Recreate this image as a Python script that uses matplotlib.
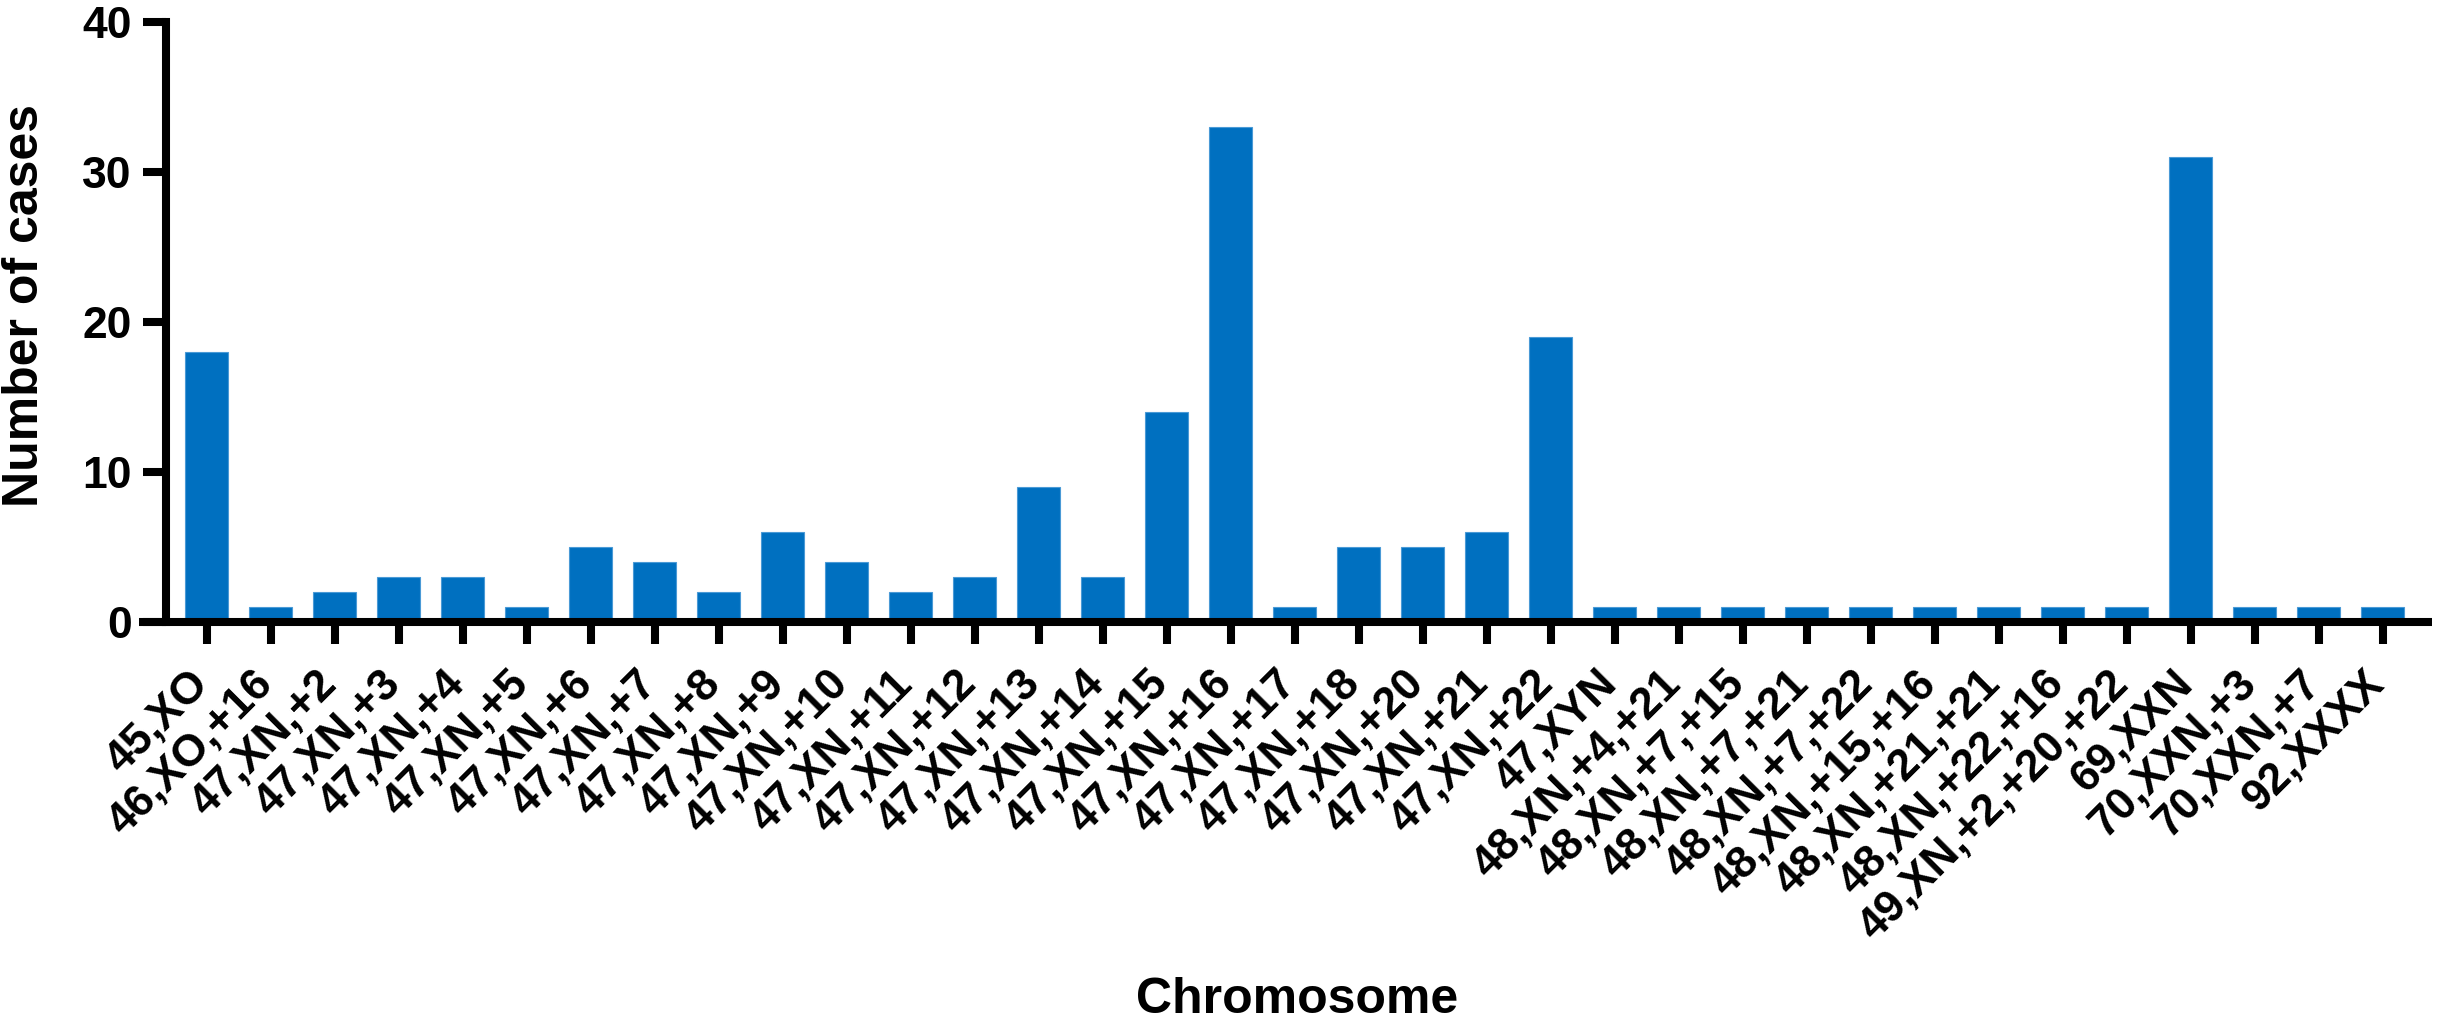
import matplotlib
matplotlib.use("Agg")
import matplotlib.pyplot as plt
import matplotlib.transforms as mtransforms

categories = ["45,XO", "46,XO,+16", "47,XN,+2", "47,XN,+3", "47,XN,+4", "47,XN,+5",
              "47,XN,+6", "47,XN,+7", "47,XN,+8", "47,XN,+9", "47,XN,+10", "47,XN,+11",
              "47,XN,+12", "47,XN,+13", "47,XN,+14", "47,XN,+15", "47,XN,+16", "47,XN,+17",
              "47,XN,+18", "47,XN,+20", "47,XN,+21", "47,XN,+22", "47,XYN", "48,XN,+4,+21",
              "48,XN,+7,+15", "48,XN,+7,+21", "48,XN,+7,+22", "48,XN,+15,+16", "48,XN,+21,+21",
              "48,XN,+22,+16", "49,XN,+2,+20,+22", "69,XXN", "70,XXN,+3", "70,XXN,+7", "92,XXXX"]
cases = [18, 1, 2, 3, 3, 1, 5, 4, 2, 6, 4, 2, 3, 9, 3, 14, 33, 1, 5, 5, 6, 19,
         1, 1, 1, 1, 1, 1, 1, 1, 1, 31, 1, 1, 1]
yticks = [0, 10, 20, 30, 40]

plt.rcParams['font.family'] = ['Liberation Sans', 'DejaVu Sans']
plt.rcParams['font.weight'] = 'bold'

W, H = 2438, 1032
dpi = 100
fig = plt.figure(figsize=(W / dpi, H / dpi), dpi=dpi)
ax = fig.add_axes([139 / W, 1 - 621.5 / H, (2432 - 139) / W, (621.5 - 22) / H])

x = list(range(len(categories)))
ax.bar(x, cases, width=0.667, color='#0070C0', edgecolor='#4a9ad6', linewidth=0.8, zorder=2)

lw = 5.8
ax.set_xlim(-1.06, 34.77)
ax.set_ylim(0, 40)
for s in ['top', 'right']:
    ax.spines[s].set_visible(False)
ax.spines['left'].set_position(('data', -0.64))
ax.spines['left'].set_linewidth(lw)
ax.spines['bottom'].set_linewidth(lw)
ax.spines['left'].set_capstyle('projecting')
ax.spines['bottom'].set_capstyle('butt')
ax.spines['left'].set_zorder(3)
ax.spines['bottom'].set_zorder(4)

ax.set_yticks(yticks)
ax.set_yticklabels([str(v) for v in yticks], fontsize=32, fontweight='bold')
ax.tick_params(axis='y', length=16.5, width=lw, pad=8)
ax.set_xticks(x)
ax.set_xticklabels(categories, fontsize=32, fontweight='bold', rotation=45, ha='right')
ax.tick_params(axis='x', length=16, width=lw, pad=14)
offset = mtransforms.ScaledTranslation(10 / dpi, 0, fig.dpi_scale_trans)
for lab in ax.get_xticklabels():
    lab.set_transform(lab.get_transform() + offset)

fig.text(1297 / W, 1 - 1000 / H, "Chromosome", fontsize=36, fontweight='bold',
         ha='center', va='center')
fig.text(25 / W, 1 - 306 / H, "Number of cases", fontsize=36, fontweight='bold',
         ha='center', va='center', rotation=90)

fig.savefig("out.png", dpi=dpi)
